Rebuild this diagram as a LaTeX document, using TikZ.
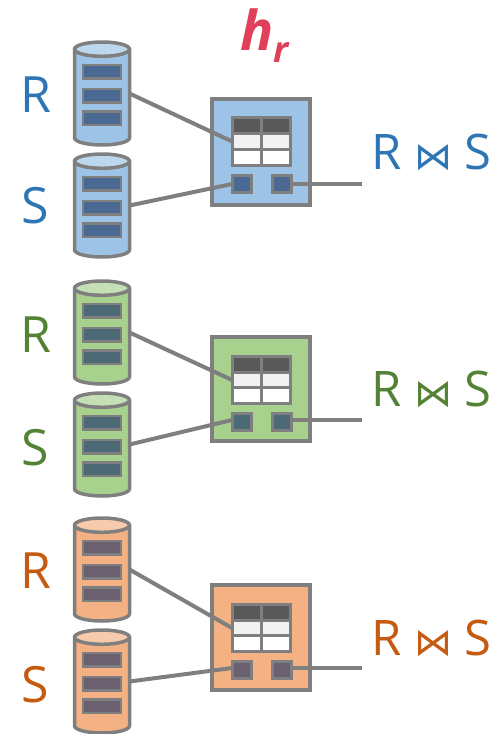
\documentclass[tikz,border=0pt]{standalone}
\usepackage{fontspec}
\usepackage{xcolor}
\setmainfont{Open Sans}
\newfontfamily\symfont{DejaVu Sans}
\usetikzlibrary{shapes.geometric,positioning,calc}

\definecolor{linegray}{HTML}{7F7F7F}
\definecolor{headgray}{HTML}{595959}
\definecolor{hashred}{HTML}{E0405A}
\definecolor{blueA}{HTML}{9DC3E6}
\definecolor{blueB}{HTML}{BDD7EE}
\definecolor{blueC}{HTML}{4A6A94}
\definecolor{blueT}{HTML}{2E75B6}
\definecolor{greenA}{HTML}{A9D18E}
\definecolor{greenB}{HTML}{C5E0B4}
\definecolor{greenC}{HTML}{4C6A75}
\definecolor{greenT}{HTML}{548235}
\definecolor{orangeA}{HTML}{F4B183}
\definecolor{orangeB}{HTML}{F8CBAD}
\definecolor{orangeC}{HTML}{6A6070}
\definecolor{orangeT}{HTML}{C55A11}

\begin{document}
\begin{tikzpicture}[
    x=1pt, y=-1pt,
    every node/.style={inner sep=0pt, outer sep=0pt},
    node distance=0pt,
    disk/.style={cylinder, shape border rotate=90, aspect=0.26, inner sep=27.5pt, draw=linegray, line width=3.5pt, minimum width=55pt, minimum height=103pt, anchor=shape center, cylinder uses custom fill},
    record/.style={rectangle, draw=linegray, line width=2.5pt, minimum width=38pt, minimum height=13.5pt},
    job/.style={rectangle, draw=linegray, line width=4pt, minimum width=98pt},
    cell/.style={rectangle, draw=linegray, line width=3pt, minimum width=29pt, minimum height=15.7pt},
    port/.style={rectangle, draw=linegray, line width=3pt, minimum width=19pt, minimum height=17pt},
    wire/.style={draw=linegray, line width=4pt},
    tablename/.style={font=\fontsize{50}{50}\selectfont},
    joined/.style={font=\fontsize{49}{49}\selectfont, anchor=base west}
]
    \useasboundingbox (0,0) rectangle (496,734);

    % y of both disks and labels, y of the job box and its height, y of the ports and of the output, result baseline
    \foreach \g/\yr/\ys/\lr/\ls/\yj/\hj/\yp/\yo/\yt in {blue/50/162/94.5/206/152/106/183.5/184/169.5, green/289/401/334.5/448/389/104/422/420/406.5, orange/526/638/570.5/684.5/637/105/670/668/655}{
        \node[disk, cylinder body fill=\g A, cylinder end fill=\g B] (\g R) at (102,\yr+43.5) {};
        \node[disk, cylinder body fill=\g A, cylinder end fill=\g B] (\g S) at (102,\ys+43.5) {};
        \foreach \d in {R,S}{
            \node[record, fill=\g C] (\g\d a) at ($(\g\d.shape center)+(0,-22)$) {};
            \node[record, fill=\g C] (\g\d b) at ($(\g\d.shape center)+(0,2)$) {};
            \node[record, fill=\g C] (\g\d c) at ($(\g\d.shape center)+(0,24.5)$) {};
        }
        \node[tablename, text=\g T] (\g Rlabel) at (35.5,\lr) {R};
        \node[tablename, text=\g T] (\g Slabel) at (35,\ls) {S};

        \node[job, fill=\g A, minimum height=\hj pt] (\g job) at (260.5,\yj) {};
        \node[port, fill=\g C] (\g left) at (241.5,\yp) {};
        \node[port, fill=\g C] (\g right) at (281.5,\yp) {};
        \node[cell, fill=headgray, above=41.4pt of \g left.north west, anchor=south west] (\g cellA) {};
        \node[cell, fill=headgray, right=of \g cellA] (\g cellB) {};
        \node[cell, fill=black!5, below=of \g cellA] (\g cellC) {};
        \node[cell, fill=black!5, right=of \g cellC] (\g cellD) {};
        \node[cell, fill=white, below=of \g cellC] (\g cellE) {};
        \node[cell, fill=white, right=of \g cellE] (\g cellF) {};
        \coordinate (\g out) at (362,\yo);
        \node[joined, text=\g T] (\g result) at (371,\yt) {R {\symfont\fontsize{38}{38}\selectfont ⋈} S};

        \draw[wire] (\g R.east |- \g R.shape center) -- (\g cellC.west);
        \draw[wire] (\g S.east |- \g S.shape center) -- (\g left.west |- \g out);
        \draw[wire] (\g right.east |- \g out) -- (\g out);
    }

    \node[text=hashred, font=\fontsize{55}{55}\selectfont\bfseries\itshape, anchor=base west] (hash) at (240,50) {h\raisebox{-12pt}{\fontsize{36}{36}\selectfont r}};
\end{tikzpicture}
\end{document}
